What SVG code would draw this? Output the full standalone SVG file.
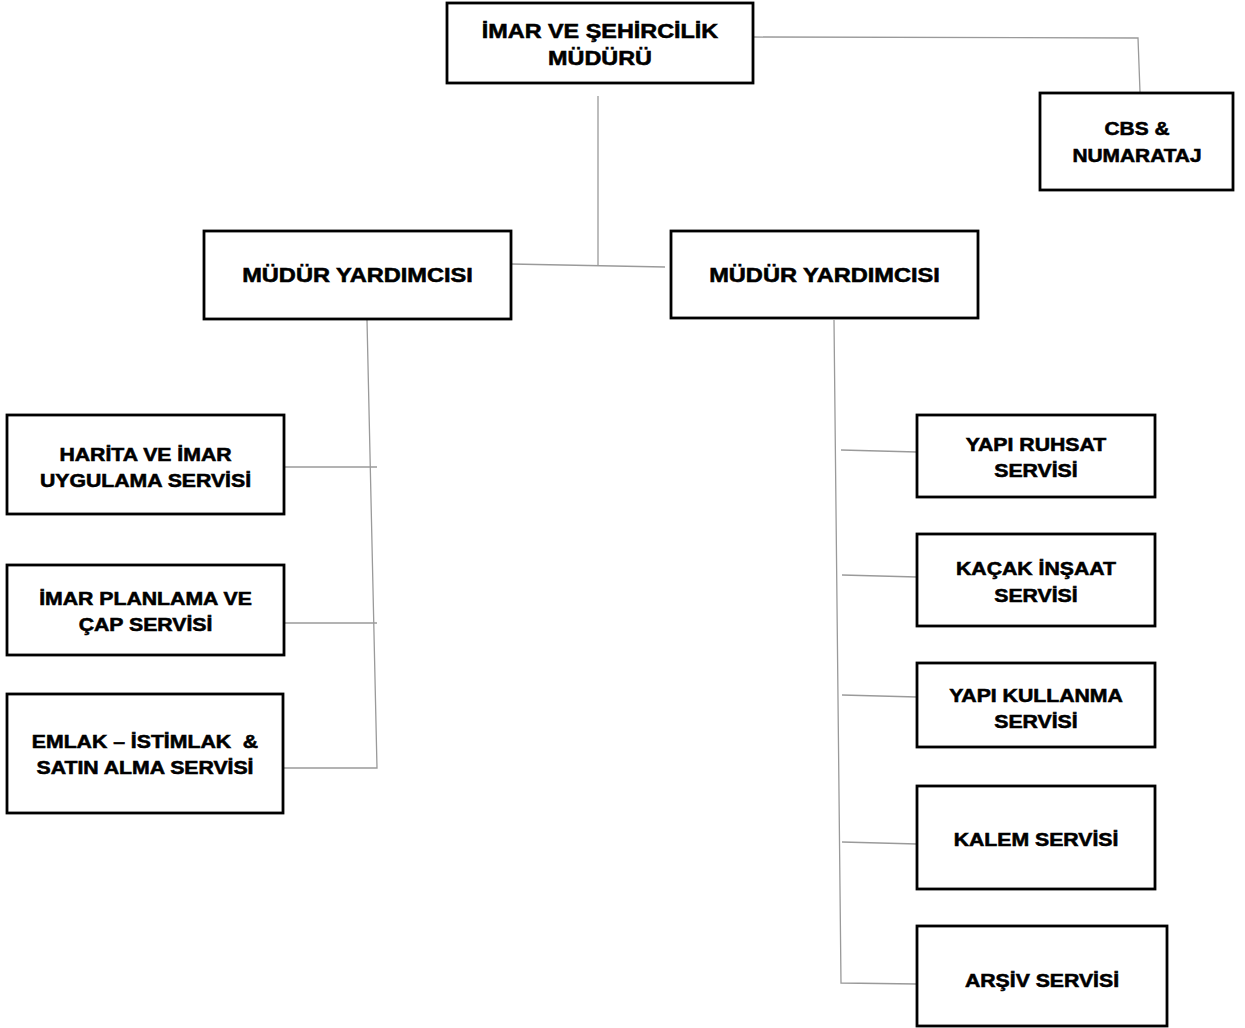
<svg xmlns="http://www.w3.org/2000/svg" width="1245" height="1028" viewBox="0 0 1245 1028">
<style>
.box{fill:#fff;stroke:#000;stroke-width:2.8}
.t{font-family:"Liberation Sans",Arial,sans-serif;font-weight:bold;fill:#000;stroke:#000;stroke-width:0.55;text-anchor:middle}
.big{font-size:20px}
.sm{font-size:18px}
.c{fill:none;stroke:#9a9a9a;stroke-width:1.3}
</style>
<rect width="1245" height="1028" fill="#fff"/>
<g id="connectors">
<polyline class="c" points="753,37 1138,38 1140,92"/>
<line class="c" x1="598" y1="96" x2="598" y2="265"/>
<line class="c" x1="511" y1="264" x2="665" y2="267"/>
<polyline class="c" points="367,320 377,768 281,768"/>
<line class="c" x1="284" y1="467" x2="377" y2="467"/>
<line class="c" x1="284" y1="623" x2="377" y2="623"/>
<polyline class="c" points="834,320 841,983 917,984"/>
<line class="c" x1="841" y1="450" x2="917" y2="452"/>
<line class="c" x1="842" y1="575" x2="917" y2="577"/>
<line class="c" x1="842" y1="695" x2="917" y2="697"/>
<line class="c" x1="842" y1="842" x2="917" y2="844"/>
</g>
<g id="mudur">
<rect class="box" x="447" y="3" width="306" height="80"/>
<text class="t big" transform="translate(600,0) scale(1.17,1)"><tspan x="0" y="38">İMAR VE ŞEHİRCİLİK</tspan><tspan x="0" y="65">MÜDÜRÜ</tspan></text>
</g>
<g id="cbs">
<rect class="box" x="1040" y="93" width="193" height="97"/>
<text class="t sm" transform="translate(1137,0) scale(1.16,1)"><tspan x="0" y="135">CBS &amp;</tspan><tspan x="0" y="162">NUMARATAJ</tspan></text>
</g>
<g id="yardimci-sol">
<rect class="box" x="204" y="231" width="307" height="88"/>
<text class="t big" transform="translate(357.5,0) scale(1.18,1)" y="282">MÜDÜR YARDIMCISI</text>
</g>
<g id="yardimci-sag">
<rect class="box" x="671" y="231" width="307" height="87"/>
<text class="t big" transform="translate(824.5,0) scale(1.18,1)" y="282">MÜDÜR YARDIMCISI</text>
</g>
<g id="harita">
<rect class="box" x="7" y="415" width="277" height="99"/>
<text class="t sm" transform="translate(145.5,0) scale(1.18,1)"><tspan x="0" y="461">HARİTA VE İMAR</tspan><tspan x="0" y="487">UYGULAMA SERVİSİ</tspan></text>
</g>
<g id="imar-planlama">
<rect class="box" x="7" y="565" width="277" height="90"/>
<text class="t sm" transform="translate(145.5,0) scale(1.18,1)"><tspan x="0" y="605">İMAR PLANLAMA VE</tspan><tspan x="0" y="631">ÇAP SERVİSİ</tspan></text>
</g>
<g id="emlak">
<rect class="box" x="7" y="694" width="276" height="119"/>
<text class="t sm" transform="translate(145,0) scale(1.18,1)" xml:space="preserve"><tspan x="0" y="748">EMLAK – İSTİMLAK  &amp;</tspan><tspan x="0" y="774">SATIN ALMA SERVİSİ</tspan></text>
</g>
<g id="yapi-ruhsat">
<rect class="box" x="917" y="415" width="238" height="82"/>
<text class="t sm" transform="translate(1036,0) scale(1.18,1)"><tspan x="0" y="451">YAPI RUHSAT</tspan><tspan x="0" y="477">SERVİSİ</tspan></text>
</g>
<g id="kacak-insaat">
<rect class="box" x="917" y="534" width="238" height="92"/>
<text class="t sm" transform="translate(1036,0) scale(1.18,1)"><tspan x="0" y="575">KAÇAK İNŞAAT</tspan><tspan x="0" y="602">SERVİSİ</tspan></text>
</g>
<g id="yapi-kullanma">
<rect class="box" x="917" y="663" width="238" height="84"/>
<text class="t sm" transform="translate(1036,0) scale(1.18,1)"><tspan x="0" y="702">YAPI KULLANMA</tspan><tspan x="0" y="728">SERVİSİ</tspan></text>
</g>
<g id="kalem">
<rect class="box" x="917" y="786" width="238" height="103"/>
<text class="t sm" transform="translate(1036,0) scale(1.18,1)" y="846">KALEM SERVİSİ</text>
</g>
<g id="arsiv">
<rect class="box" x="917" y="926" width="250" height="100"/>
<text class="t sm" transform="translate(1042,0) scale(1.18,1)" y="987">ARŞİV SERVİSİ</text>
</g>
</svg>
